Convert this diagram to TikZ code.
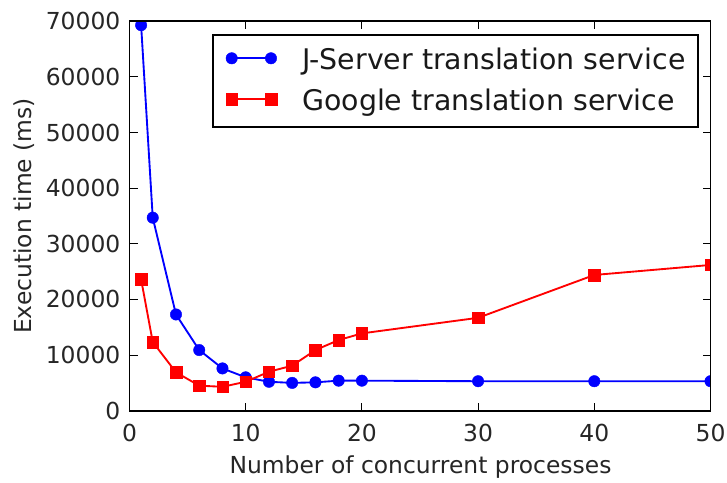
\documentclass[tikz,border=0pt]{standalone}
\usepackage{fontspec}
\setmainfont{DejaVu Sans}
\begin{document}
\begin{tikzpicture}[x=0.75pt,y=0.75pt,
  plotcs/.style={shift={(129.5,71.3)}, x=8.715pt, y=4.172pt},
  bluemark/.style={circle, fill=blue, draw=blue, line width=0.3pt, inner sep=0pt, minimum size=8.6pt},
  redmark/.style={rectangle, fill=red, draw=red, line width=0.3pt, inner sep=0pt, minimum size=8.6pt},
  blueline/.style={draw=blue, line width=1.4pt, line join=round},
  redline/.style={draw=red, line width=1.4pt, line join=round},
  tickmark/.style={line width=0.8pt, black},
  frameline/.style={line width=1.45pt, black},
  basefont/.style={font=\fontsize{17.55}{21}\selectfont, inner sep=0pt, text=black!85},
  legfont/.style={font=\fontsize{21.3}{25}\selectfont, inner sep=0pt, text=black!90}]
\useasboundingbox[fill=white] (0,0) rectangle (727,482);

% ---- data ----
\begin{scope}[plotcs]
  \clip (0,0) rectangle (50,70);
  \foreach \i/\xx/\yy in {1/1/69.3, 2/2/34.7, 3/4/17.3, 4/6/10.9, 5/8/7.6, 6/10/6.0, 7/12/5.2,
                          8/14/5.0, 9/16/5.1, 10/18/5.4, 11/20/5.4, 12/30/5.3, 13/40/5.3, 14/50/5.3}
    \coordinate (b\i) at (\xx,\yy);
  \foreach \i/\xx/\yy in {1/1/23.6, 2/2/12.35, 3/4/6.9, 4/6/4.5, 5/8/4.3, 6/10/5.2, 7/12/7.0,
                          8/14/8.1, 9/16/10.9, 10/18/12.7, 11/20/13.9, 12/30/16.7, 13/40/24.4, 14/50/26.2}
    \coordinate (r\i) at (\xx,\yy);
  \draw[blueline] (b1) \foreach \i in {2,...,14} { -- (b\i) };
  \foreach \i in {1,...,14} \node[bluemark] (bm\i) at (b\i) {};
  \draw[redline] (r1) \foreach \i in {2,...,14} { -- (r\i) };
  \foreach \i in {1,...,14} \node[redmark] (rm\i) at (r\i) {};
\end{scope}

% ---- axes ----
\begin{scope}[plotcs]
  \coordinate (ll) at (0,0);
  \coordinate (ur) at (50,70);
  \foreach \xx in {0,10,...,50} {
    \draw[tickmark] (\xx,0) -- ++(0,6pt);
    \draw[tickmark] (\xx,70) -- ++(0,-6pt);
    \node[basefont, anchor=north] (xl\xx) at ([yshift=-10pt]\xx,0) {\xx};
  }
  \foreach \yy/\lab in {0/0,10/10000,20/20000,30/30000,40/40000,50/50000,60/60000,70/70000} {
    \draw[tickmark] (0,\yy) -- ++(6pt,0);
    \draw[tickmark] (50,\yy) -- ++(-6pt,0);
    \node[basefont, anchor=east] (yl\yy) at ([xshift=-6.7pt]0,\yy) {\lab};
  }
  \draw[frameline, line join=miter] (ll) rectangle (ur);
\end{scope}

% ---- axis labels ----
\node[basefont, anchor=base] (xlabel) at (420.5,8.7) {Number of concurrent processes};
\node[basefont, anchor=base, rotate=90] (ylabel) at (32,266) {Execution time (ms)};

% ---- legend ----
\draw[line width=1.2pt, fill=white] (212.7,354.7) rectangle (697.7,446.7);
\coordinate (lb1) at (231.7,423.7);
\coordinate (lb2) at (271,423.7);
\coordinate (lr1) at (231.7,382.7);
\coordinate (lr2) at (271,382.7);
\draw[blueline] (lb1) -- (lb2);
\node[bluemark] (lbm1) at (lb1) {};
\node[bluemark] (lbm2) at (lb2) {};
\draw[redline] (lr1) -- (lr2);
\node[redmark] (lrm1) at (lr1) {};
\node[redmark] (lrm2) at (lr2) {};
\node[legfont, anchor=base west] (lt1) at (302,412.2) {J-Server translation service};
\node[legfont, anchor=base west] (lt2) at (302,371.2) {Google translation service};
\end{tikzpicture}
\end{document}
